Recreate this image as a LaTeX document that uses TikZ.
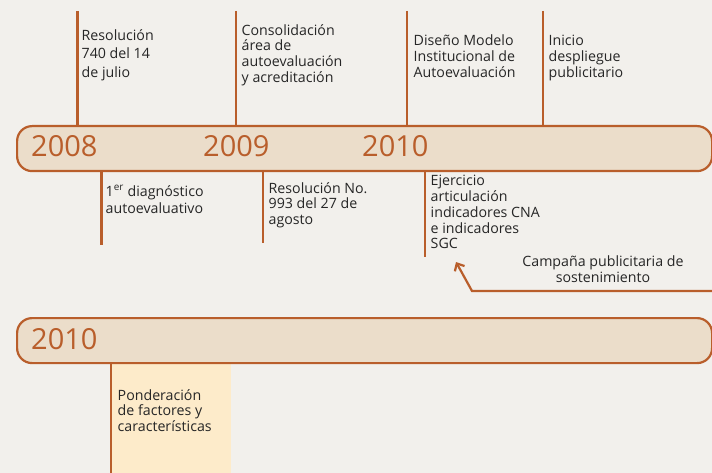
\documentclass[tikz,border=0pt]{standalone}
\usepackage{fontspec}
\setmainfont{Open Sans}
\usetikzlibrary{arrows.meta}
\definecolor{bgc}{HTML}{F2F0EC}
\definecolor{barfill}{HTML}{EBDDCA}
\definecolor{rust}{HTML}{B95E2B}
\definecolor{paleyel}{HTML}{FDEBCA}
\definecolor{txt}{HTML}{262626}
\tikzset{
  bar/.style={draw=rust, fill=barfill, line width=2.2pt, rounded corners=15pt,
    minimum width=695pt, minimum height=45pt, anchor=north west, inner sep=0pt},
  year/.style={text=rust, font=\fontsize{29}{31}\selectfont, anchor=base west, inner sep=0pt},
  tick/.style={draw=rust, line width=2.2pt},
  lbl/.style={text=txt, anchor=north west, align=left, inner sep=0pt},
  lead16/.style={font=\fontsize{14.2}{15.8}\selectfont},
  lead18/.style={font=\fontsize{14.2}{18.5}\selectfont},
  lead17/.style={font=\fontsize{14.2}{17}\selectfont},
}
\begin{document}
\begin{tikzpicture}[x=1pt,y=-1pt]
\useasboundingbox[fill=bgc] (0,0) rectangle (712,473);
% yellow box under second bar
\fill[paleyel] (111,362) rectangle (231,473);
% bars
\node[bar] (bar1) at (16,125) {};
\node[bar] (bar2) at (16,317) {};
% years
\node[year] (y2008) at (31,157) {2008};
\node[year] (y2009) at (203,157) {2009};
\node[year] (y2010) at (362,157) {2010};
\node[year] (y2010b) at (31,349) {2010};
% top ticks
\coordinate (t1) at (77.5,11);
\coordinate (t2) at (235.7,11);
\coordinate (t3) at (407.3,11);
\coordinate (t4) at (542.7,11);
\foreach \c in {t1,t2,t3,t4} \draw[tick] (\c) -- (\c |- bar1.north);
% bottom ticks
\coordinate (b1) at (101.5,245);
\coordinate (b2) at (263,243);
\coordinate (b3) at (425,257);
\foreach \c in {b1,b2,b3} \draw[tick] (\c |- bar1.south) -- (\c);
\coordinate (b4) at (111,473);
\draw[tick] (b4 |- bar2.south) -- (b4);
% labels top
\node[lbl,lead18] (l1) at (81.5,29) {Resolución\\740 del 14\\de julio};
\node[lbl,lead16] (l2) at (241.5,24) {Consolidación\\área de\\autoevaluación\\y acreditación};
\node[lbl,lead16] (l3) at (413.5,35) {Diseño Modelo\\Institucional de\\Autoevaluación};
\node[lbl,lead16] (l4) at (548.5,35) {Inicio\\despliegue\\publicitario};
% labels bottom
\node[lbl,lead17] (l5) at (105.5,185) {1\textsuperscript{er} diagnóstico\\autoevaluativo};
\node[lbl,lead16] (l6) at (268.5,182) {Resolución No.\\993 del 27 de\\agosto};
\node[lbl,lead16] (l7) at (430.5,175) {Ejercicio\\articulación\\indicadores CNA\\e indicadores\\SGC};
\node[lbl,lead16,anchor=north,align=center] (l8) at (603,256) {Campaña publicitaria de\\sostenimiento};
\node[lbl,lead16] (l9) at (117.5,389) {Ponderación\\de factores y\\características};
% arrow
\coordinate (a0) at (712,291);
\coordinate (a1) at (472,291);
\coordinate (a2) at (456,262);
\draw[tick, -{Straight Barb[length=6pt,width=11pt]}] (a0) -- (a1) -- (a2);
\end{tikzpicture}
\end{document}
